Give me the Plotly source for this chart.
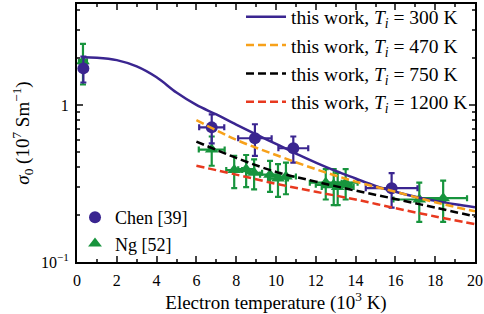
import plotly.graph_objects as go

# ---- data ----
curve_x_300 = [0.3, 1, 2, 3, 4, 5, 6, 7, 8, 9, 10, 11, 12, 13, 14, 15, 16, 17, 18, 19, 20]
curve_y_300 = [2.01, 2.0, 1.93, 1.76, 1.5, 1.2, 1.0, 0.87, 0.75, 0.65, 0.565, 0.49, 0.43, 0.38, 0.34, 0.305, 0.28, 0.26, 0.245, 0.233, 0.223]
curve_x_dash = [6, 8, 10, 12, 14, 16, 18, 20]
curve_y_470 = [0.80, 0.60, 0.48, 0.39, 0.325, 0.28, 0.24, 0.21]
curve_y_750 = [0.585, 0.46, 0.375, 0.325, 0.285, 0.252, 0.222, 0.195]
curve_y_1200 = [0.41, 0.36, 0.315, 0.28, 0.25, 0.22, 0.195, 0.174]

chen_x = [0.32, 6.77, 8.94, 10.87, 15.81]
chen_y = [1.71, 0.72, 0.614, 0.53, 0.295]
chen_xerr = [0.0, 0.63, 0.84, 0.75, 1.3]
chen_yerr = [0.32, 0.15, 0.14, 0.1, 0.073]

ng_x = [0.3, 6.77, 7.9, 8.5, 8.9, 9.7, 10.1, 10.5, 12.5, 12.9, 13.1, 13.5, 17.2, 18.4]
ng_y = [1.9, 0.52, 0.385, 0.39, 0.37, 0.36, 0.34, 0.35, 0.32, 0.31, 0.30, 0.32, 0.25, 0.255]
ng_xerr = [0.2, 0.65, 0.4, 0.4, 0.4, 0.5, 0.5, 0.5, 0.8, 0.9, 0.8, 0.6, 1.3, 1.2]
ng_yerr = [0.55, 0.11, 0.09, 0.09, 0.08, 0.08, 0.08, 0.08, 0.07, 0.08, 0.07, 0.07, 0.07, 0.075]

x_ticks = [0, 2, 4, 6, 8, 10, 12, 14, 16, 18, 20]
y_ticks = [0.1, 1]
y_ticktext = ["10<sup>−1</sup>", "1"]
y_minor = [0.2, 0.3, 0.4, 0.5, 0.6, 0.7, 0.8, 0.9, 2, 3, 4]

PURPLE = "#3a2590"
GREEN = "#17943d"
ORANGE = "#f7a11a"
RED = "#e8391f"
FONT = "Liberation Serif"

fig = go.Figure()

fig.add_trace(go.Scatter(
    x=ng_x, y=ng_y, mode="markers", name="Ng [52]", legend="legend2",
    marker=dict(symbol="triangle-up", size=12, color=GREEN),
    error_y=dict(type="data", array=ng_yerr, color=GREEN, thickness=2.2, width=3),
    error_x=dict(type="data", array=ng_xerr, color=GREEN, thickness=2.2, width=3),
    legendrank=2,
))
fig.add_trace(go.Scatter(
    x=chen_x, y=chen_y, mode="markers", name="Chen [39]", legend="legend2",
    marker=dict(symbol="circle", size=12, color=PURPLE),
    error_y=dict(type="data", array=chen_yerr, color=PURPLE, thickness=2.2, width=3),
    error_x=dict(type="data", array=chen_xerr, color=PURPLE, thickness=2.2, width=3),
    legendrank=1,
))

lab = "this work, <i>T<sub>i</sub></i> = {} K"
fig.add_trace(go.Scatter(x=curve_x_300, y=curve_y_300, mode="lines", name=lab.format(300),
                         line=dict(color=PURPLE, width=2.5, shape="spline")))
fig.add_trace(go.Scatter(x=curve_x_dash, y=curve_y_470, mode="lines", name=lab.format(470),
                         line=dict(color=ORANGE, width=2.5, dash="8px,4px", shape="spline")))
fig.add_trace(go.Scatter(x=curve_x_dash, y=curve_y_750, mode="lines", name=lab.format(750),
                         line=dict(color="black", width=2.5, dash="8px,4px", shape="spline")))
fig.add_trace(go.Scatter(x=curve_x_dash, y=curve_y_1200, mode="lines", name=lab.format(1200),
                         line=dict(color=RED, width=2.5, dash="8px,4px", shape="spline")))

fig.update_layout(
    width=484, height=314,
    margin=dict(l=77, r=9, t=4, b=52, autoexpand=False),
    paper_bgcolor="white", plot_bgcolor="white",
    font=dict(family=FONT, size=16, color="black"),
    legend=dict(x=0.995, y=1.025, xanchor="right", yanchor="top", bgcolor="rgba(0,0,0,0)",
                font=dict(size=19.5), tracegroupgap=0, itemwidth=40),
    legend2=dict(x=-0.005, y=0.0, xanchor="left", yanchor="bottom", bgcolor="rgba(0,0,0,0)",
                 font=dict(size=18), traceorder="normal"),
    xaxis=dict(range=[0, 20], tickvals=x_ticks, ticks="inside", ticklen=6, tickwidth=2,
               showline=True, linewidth=2, linecolor="black", mirror="allticks",
               showgrid=False, zeroline=False, automargin=False, ticklabelstandoff=3,
               minor=dict(dtick=1, ticks="inside", ticklen=3, tickwidth=2),
               title=dict(text="Electron temperature (10<sup>3</sup> K)", standoff=6),
               tickfont=dict(size=16)),
    yaxis=dict(type="log", range=[-1, 0.643], tickvals=y_ticks, ticktext=y_ticktext,
               ticks="inside", ticklen=6, tickwidth=2,
               showline=True, linewidth=2, linecolor="black", mirror="allticks",
               showgrid=False, zeroline=False, automargin=False, ticklabelstandoff=3,
               minor=dict(tickvals=y_minor, ticks="inside", ticklen=3, tickwidth=2),
               title=dict(text="<i>σ</i><sub>0</sub> (10<sup>7</sup> Sm<sup>−1</sup>)", standoff=6),
               tickfont=dict(size=16)),
)

fig.write_html("out.html", config={"displayModeBar": False},
               post_script="document.body.style.margin='0';")
